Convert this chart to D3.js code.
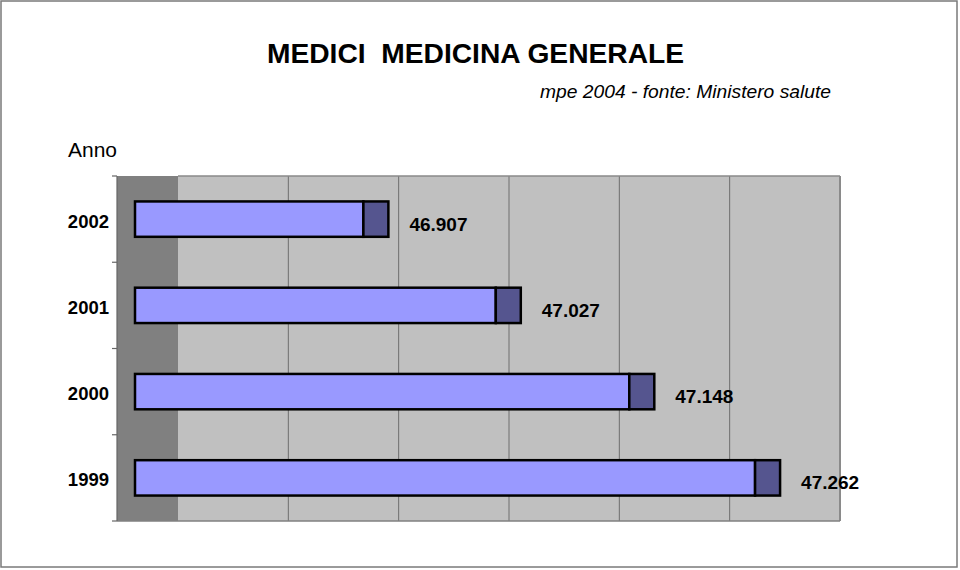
<!DOCTYPE html>
<html><head><meta charset="utf-8">
<script src="https://cdn.jsdelivr.net/npm/d3@7"></script>
<style>body{margin:0;background:#fff;}svg{display:block;font-family:"Liberation Sans",Arial,sans-serif;}</style>
</head><body>
<svg id="c" width="960" height="570"></svg>
<script>
const years = ["2002", "2001", "2000", "1999"];
const values = [46907, 47027, 47148, 47262];
const valueLabels = ["46.907", "47.027", "47.148", "47.262"];
const axisDomain = [46700, 47300];
const gridTicks = [46700, 46800, 46900, 47000, 47100, 47200, 47300];

(function(){
const svg = d3.select("#c");
svg.append("rect").attr("x",1).attr("y",1).attr("width",956).attr("height",566)
  .attr("fill","#fff").attr("stroke","#7a7a7a").attr("stroke-width",1.5);

const pTop = 176, pBottom = 521, cap = 25;
const xFront = d3.scaleLinear().domain(axisDomain).range([135, 797]);
const xBack = d3.scaleLinear().domain(axisDomain).range([178, 840]);
const y = d3.scaleBand().domain(years).range([pTop, pBottom]).paddingInner(0.59).paddingOuter(0.295);

// back wall
svg.append("rect").attr("x",xBack(axisDomain[0])).attr("y",pTop)
  .attr("width",xBack(axisDomain[1])-xBack(axisDomain[0])).attr("height",pBottom-pTop).attr("fill","#c0c0c0");
// side wall
svg.append("rect").attr("x",117).attr("y",pTop).attr("width",xBack(axisDomain[0])-117).attr("height",pBottom-pTop).attr("fill","#808080");
// grid
svg.append("g").selectAll("line").data(gridTicks.slice(1,-1)).join("line")
  .attr("x1",d=>xBack(d)).attr("x2",d=>xBack(d)).attr("y1",pTop).attr("y2",pBottom)
  .attr("stroke","#6e6e6e").attr("stroke-width",1);
// wall edges
svg.append("line").attr("x1",178).attr("x2",840).attr("y1",pTop).attr("y2",pTop).attr("stroke","#8a8a8a").attr("stroke-width",1.5);
svg.append("line").attr("x1",840).attr("x2",840).attr("y1",pTop).attr("y2",pBottom).attr("stroke","#8a8a8a").attr("stroke-width",2);
svg.append("line").attr("x1",117).attr("x2",840).attr("y1",pBottom).attr("y2",pBottom).attr("stroke","#808080").attr("stroke-width",1.5);

// left axis
const yAxis = svg.append("g");
yAxis.append("line").attr("x1",117).attr("x2",117).attr("y1",pTop).attr("y2",pBottom).attr("stroke","#666").attr("stroke-width",1.2);
yAxis.selectAll("line.t").data(d3.range(years.length+1)).join("line").attr("class","t")
  .attr("x1",112).attr("x2",117).attr("y1",i=>pTop+i*y.step()).attr("y2",i=>pTop+i*y.step())
  .attr("stroke","#666").attr("stroke-width",1.2);
yAxis.selectAll("text").data(years).join("text")
  .attr("x",109).attr("y",d=>y(d)+y.bandwidth()/2+8.5).attr("text-anchor","end")
  .attr("font-size",18.5).attr("font-weight","bold").attr("fill","#000").text(d=>d);

// bars
const bars = svg.append("g").selectAll("g").data(values).join("g");
bars.append("rect").attr("x",xFront(axisDomain[0])).attr("y",(d,i)=>y(years[i]))
  .attr("width",d=>xFront(d)-xFront(axisDomain[0])).attr("height",y.bandwidth())
  .attr("fill","#9999ff").attr("stroke","#000").attr("stroke-width",2.5);
bars.append("rect").attr("x",d=>xFront(d)).attr("y",(d,i)=>y(years[i]))
  .attr("width",cap).attr("height",y.bandwidth())
  .attr("fill","#55558f").attr("stroke","#000").attr("stroke-width",2.5);
bars.append("text").attr("x",d=>xFront(d)+cap+21).attr("y",(d,i)=>y(years[i])+y.bandwidth()/2+11.5)
  .attr("font-size",19).attr("font-weight","bold").attr("fill","#000").text((d,i)=>valueLabels[i]);

// titles
svg.append("text").attr("x",267).attr("y",63).attr("font-size",28).attr("font-weight","bold")
  .attr("textLength",417).attr("lengthAdjust","spacingAndGlyphs").attr("xml:space","preserve")
  .text("MEDICI  MEDICINA GENERALE");
svg.append("text").attr("x",540).attr("y",98).attr("font-size",19).attr("font-style","italic")
  .attr("textLength",291).attr("lengthAdjust","spacingAndGlyphs")
  .text("mpe 2004 - fonte: Ministero salute");
svg.append("text").attr("x",68).attr("y",157).attr("font-size",20).attr("fill","#000")
  .attr("textLength",49).attr("lengthAdjust","spacingAndGlyphs").text("Anno");
})();
</script>
</body></html>
